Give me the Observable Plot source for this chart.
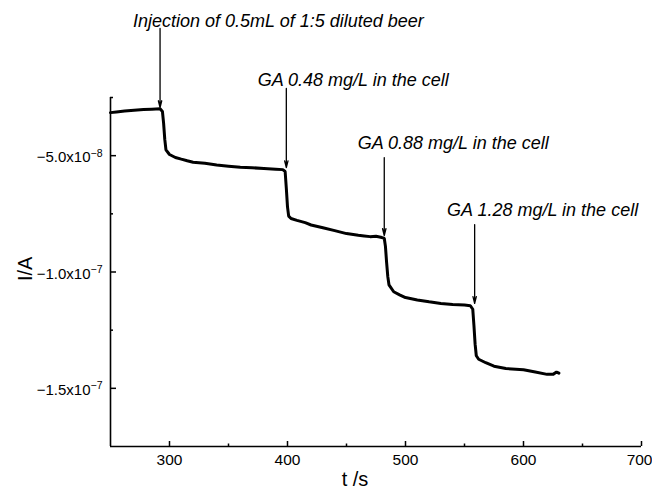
<!DOCTYPE html>
<html><head><meta charset="utf-8">
<script src="https://cdn.jsdelivr.net/npm/d3@7"></script>
<script src="https://cdn.jsdelivr.net/npm/@observablehq/plot@0.6"></script>
<style>body{margin:0;background:#fff} svg{display:block}</style>
</head><body><div id="chart"></div>
<script>
// time in s, current in units of 1e-8 A
const time = [250,255,262,270,278,285,292,294,295,296,297,300,305,310,315,320,330,340,350,360,370,380,390,396,398,399,400,401,403,408,415,420,430,440,450,460,465,470,475,480,482,483,484,485,486,490,495,500,510,520,530,540,550,555,557,558,559,560,562,568,575,585,600,610,620,625,628,630];
const current = [-3.15,-3.12,-3.08,-3.05,-3.02,-3.00,-2.98,-3.10,-3.6,-4.3,-4.75,-4.95,-5.08,-5.15,-5.22,-5.28,-5.33,-5.40,-5.45,-5.50,-5.52,-5.55,-5.58,-5.60,-5.68,-6.4,-7.2,-7.6,-7.70,-7.78,-7.88,-7.98,-8.10,-8.22,-8.35,-8.42,-8.45,-8.48,-8.46,-8.52,-8.55,-8.9,-9.6,-10.2,-10.55,-10.85,-10.98,-11.1,-11.2,-11.28,-11.35,-11.40,-11.42,-11.45,-11.6,-12.3,-13.1,-13.6,-13.75,-13.90,-14.05,-14.15,-14.20,-14.30,-14.40,-14.40,-14.30,-14.35];

const xTicks = [300,400,500,600,700];
const xMinor = [350,450,550,650];
const yTicks = [-5,-10,-15];
const yMinor = [-2.5,-7.5,-12.5];

const notes = ["Injection of 0.5mL of 1:5 diluted beer","GA 0.48 mg/L in the cell","GA 0.88 mg/L in the cell","GA 1.28 mg/L in the cell"];
const noteT = [269,374.7,459.5,535.2];
const noteI = [0.77,-1.77,-4.48,-7.36];
const arrowT = [292,399,482,558.6];
const arrowTop = [0.47,-2.11,-5.08,-7.96];
const arrowTip = [-2.93,-5.51,-8.43,-11.35];

function fmtY(d){
  const [m,e] = (d*1e-8).toExponential(1).split("e");
  return m.replace("-","−") + "x10^" + String(+e).replace("-","−");
}

const idx = d3.range(time.length);
const ni = d3.range(notes.length);
const W = 652, H = 493, ML = 110, MR = 11, MT = 97, MB = 47;
const fw = W-ML-MR, fh = H-MT-MB;

const chart = Plot.plot({
  width: W, height: H,
  marginLeft: ML, marginRight: MR, marginTop: MT, marginBottom: MB,
  x: {domain: [250,700]},
  y: {domain: [-17.5,-2.5]},
  style: {fontFamily: "'Liberation Sans', Arial, sans-serif", background: "white", color: "black"},
  marks: [
    Plot.ruleX([250], {stroke: "black", strokeWidth: 1.6}),
    Plot.ruleY([-17.5], {stroke: "black", strokeWidth: 1.6}),
    Plot.tickX(xTicks, {x: d=>d, insetTop: fh-5, stroke: "black", strokeWidth: 1.5}),
    Plot.tickX(xMinor, {x: d=>d, insetTop: fh-2.5, stroke: "black", strokeWidth: 1.5}),
    Plot.tickY(yTicks, {y: d=>d, insetRight: fw-6, stroke: "black", strokeWidth: 1.5}),
    Plot.tickY(yMinor, {y: d=>d, insetRight: fw-3, stroke: "black", strokeWidth: 1.5}),
    Plot.axisX({ticks: xTicks.slice(0,4), tickSize: 0, tickPadding: 7, fontSize: 15.5, label: null}),
    Plot.axisX({ticks: xTicks.slice(4), tickSize: 0, tickPadding: 7, fontSize: 15.5, label: null, textAnchor: "end", dx: 11}),
    Plot.axisY({ticks: yTicks, tickSize: 0, tickPadding: 8, fontSize: 15, tickFormat: fmtY, label: null, dy: 2}),
    Plot.text(["t /s"], {frameAnchor: "bottom", dx: -21, dy: 39, fontSize: 20}),
    Plot.text(["I/A"], {frameAnchor: "left", rotate: -90, dx: -85, dy: 9, fontSize: 20}),
    Plot.line(idx, {x: i=>time[i], y: i=>current[i], stroke: "black", strokeWidth: 3, strokeLinejoin: "miter"}),
    Plot.arrow(ni, {x1: i=>arrowT[i], y1: i=>arrowTop[i], x2: i=>arrowT[i], y2: i=>arrowTip[i], stroke: "black", strokeWidth: 1.3, headLength: 8, headAngle: 28}),
    Plot.text(ni, {x: i=>noteT[i], y: i=>noteI[i], text: i=>notes[i], textAnchor: "start", fontStyle: "italic", fontSize: 18})
  ]
});
d3.select(chart).selectAll('g[aria-label="y-axis tick label"] text').each(function(){
  const parts = this.textContent.split("^");
  if (parts.length < 2) return;
  const t = d3.select(this);
  t.text(parts[0]);
  t.append("tspan").attr("dy", "-0.55em").attr("font-size", 10.5).text(parts[1]);
});
document.getElementById("chart").appendChild(chart);
</script>
</body></html>
